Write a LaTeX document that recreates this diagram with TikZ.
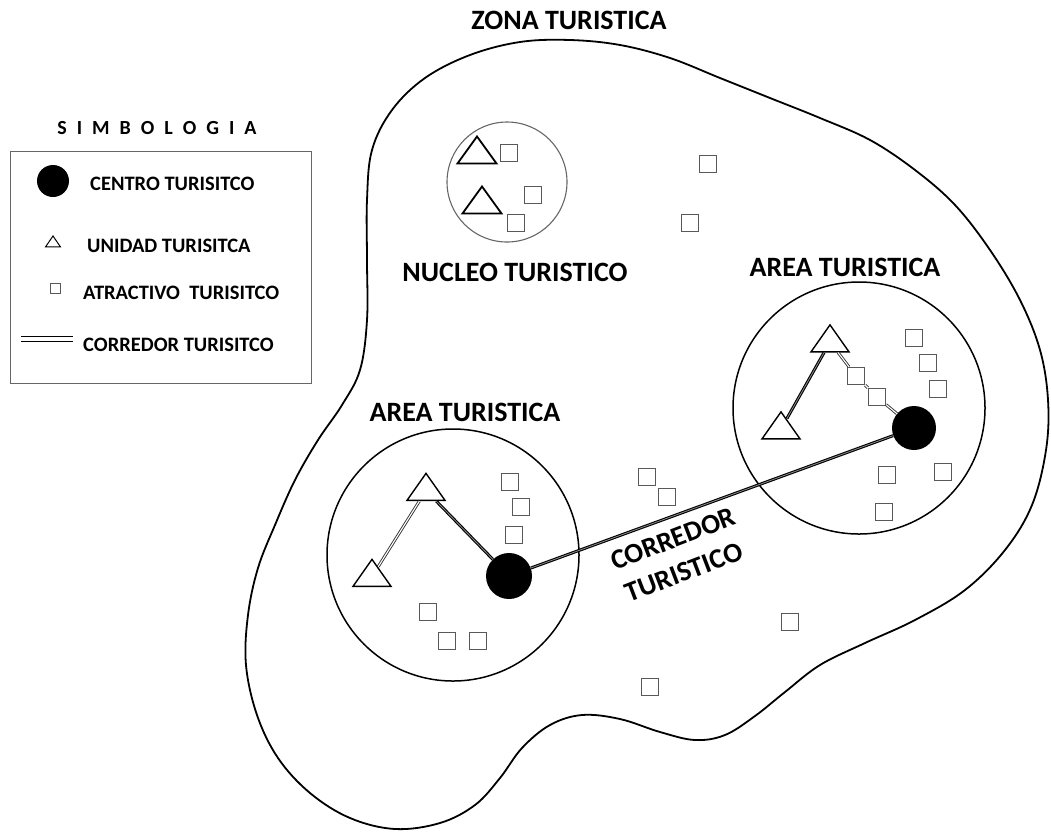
\documentclass[tikz,border=0pt]{standalone}
\usepackage{fontspec}
\setmainfont{Carlito}
\usetikzlibrary{shapes.geometric}
\tikzset{
  caption/.style={font=\bfseries\fontsize{28}{33}\selectfont, inner sep=0pt, align=center},
  legtext/.style={font=\bfseries\fontsize{20.5}{24}\selectfont, anchor=west, inner sep=0pt},
  attr/.style={draw=black!65, line width=1.3pt, minimum size=17pt, inner sep=0pt, fill=white},
  unit/.style={isosceles triangle, isosceles triangle stretches, shape border rotate=90,
    draw, line width=1.4pt, minimum width=38pt, minimum height=27pt, inner sep=0pt, fill=white},
  centro/.style={circle, fill=black, minimum size=44pt, inner sep=0pt},
  area/.style={circle, draw, line width=1.5pt, minimum size=252pt, inner sep=0pt},
  nucleo/.style={circle, draw=black!60, line width=1.1pt, minimum size=120pt, inner sep=0pt},
  corredor/.style={draw=black, double=black!45, double distance=0.8pt, line width=1.1pt},
  ruta/.style={draw=black!80, double=white, double distance=1.1pt, line width=0.9pt},
  zona/.style={line width=1.8pt},
  legbox/.style={draw=black!60, line width=1pt},
}
\begin{document}
\begin{tikzpicture}[x=1pt,y=-1pt]
\useasboundingbox (0,0) rectangle (1051,831);

% zona turistica outline
\draw[zona] plot[smooth cycle, tension=0.6] coordinates {
 (367,200) (372,150) (392,110) (425,78) (470,55) (520,42) (570,40) (620,45)
 (670,58) (720,78) (770,98) (820,118) (870,140) (915,170) (955,205) (990,250)
 (1020,300) (1040,350) (1048,400) (1046,450) (1032,505) (1005,550) (965,590)
 (915,620) (865,643) (820,665) (785,692) (755,716) (725,735) (695,740)
 (660,732) (620,719) (582,715) (550,725) (522,748) (500,778) (475,805)
 (440,823) (395,829) (350,818) (310,793) (278,758) (257,715) (246,665)
 (248,615) (258,568) (275,525) (295,480) (318,440) (342,405) (360,370)
 (367,320) (367,260)};

% labels
\node[caption] (lzona) at (569,20) {ZONA TURISTICA};
\node[caption] (lnuc) at (515,272) {NUCLEO TURISTICO};
\node[caption] (lareaL) at (465,412) {AREA TURISTICA};
\node[caption] (lareaR) at (845,267) {AREA TURISTICA};
\node[caption, rotate=21] (lcorr1) at (673,539) {CORREDOR};
\node[caption, rotate=21] (lcorr2) at (684,572) {TURISTICO};

% nucleo
\node[nucleo] (nuc) at (507,182) {};
\node[unit, line width=1.8pt, minimum width=39pt] (tN1) at (477,153.5) {};
\node[unit, line width=1.8pt, minimum width=39pt] (tN2) at (482,203.5) {};
\node[attr] (sN1) at (509,153) {};
\node[attr] (sN2) at (533,195) {};
\node[attr] (sN3) at (516,223) {};

% areas
\node[area] (aL) at (453,555) {};
\node[area] (aR) at (859,408) {};

% left area contents
\node[unit] (tL1) at (426,490.5) {};
\node[unit] (tL2) at (372,576.5) {};
\node[centro, minimum width=43pt, minimum height=46pt] (cL) at (509,576) {};
\node[attr] (sL1) at (510,482) {};
\node[attr] (sL2) at (521,507) {};
\node[attr] (sL3) at (514,535) {};
\node[attr] (sL4) at (428,612) {};
\node[attr] (sL5) at (447,641) {};
\node[attr] (sL6) at (478,641) {};

% right area contents
\node[unit] (tR1) at (830,342) {};
\node[unit] (tR2) at (781,429) {};
\node[centro] (cR) at (914,428) {};
\node[attr] (sR1) at (856,376) {};
\node[attr] (sR2) at (877,397) {};
\node[attr] (sR3) at (914,338) {};
\node[attr] (sR4) at (928,363) {};
\node[attr] (sR5) at (938,389) {};
\node[attr] (sR6) at (887,475) {};
\node[attr] (sR7) at (943,472) {};
\node[attr] (sR8) at (884,512) {};

% loose attractions
\node[attr] (sZ1) at (708,164) {};
\node[attr] (sZ2) at (690,223) {};
\node[attr] (sZ3) at (647,477) {};
\node[attr] (sZ4) at (667,497) {};
\node[attr] (sZ5) at (790,622) {};
\node[attr] (sZ6) at (650,687) {};

% corridors
\draw[corredor] (cL) -- (cR);
\draw[ruta] (tL1) -- (tL2);
\draw[corredor] (tL1) -- (cL);
\draw[corredor] (tR1) -- (tR2);
\draw[ruta] (tR1) -- (sR1);
\draw[ruta] (sR1) -- (sR2);
\draw[ruta] (sR2) -- (cR);

% legend
\node[font=\bfseries\fontsize{20}{24}\selectfont, inner sep=0pt] (lsimb) at (157,128)
 {S\hspace{10pt}I\hspace{10pt}M\hspace{10pt}B\hspace{10pt}O\hspace{10pt}L\hspace{10pt}O\hspace{10pt}G\hspace{10pt}I\hspace{10pt}A};
\draw[legbox] (10,151) rectangle (311,383);
\node[centro, minimum size=32pt] (kc) at (53,181) {};
\node[legtext] (kct) at (90,184) {CENTRO TURISITCO};
\node[unit, minimum width=15pt, minimum height=11pt, line width=1pt] (kt) at (53,243) {};
\node[legtext] (ktt) at (87,246) {UNIDAD TURISITCA};
\node[attr, minimum size=10pt, line width=1pt] (ks) at (55,288) {};
\node[legtext] (kst) at (83,293) {ATRACTIVO\ \ TURISITCO};
\coordinate (kl1) at (21,336);
\coordinate (kl2) at (73,336);
\coordinate (kl3) at (21,341);
\coordinate (kl4) at (73,341);
\draw[line width=1pt] (kl1) -- (kl2);
\draw[line width=1pt] (kl3) -- (kl4);
\node[legtext] (klt) at (83,345) {CORREDOR TURISITCO};
\end{tikzpicture}
\end{document}
